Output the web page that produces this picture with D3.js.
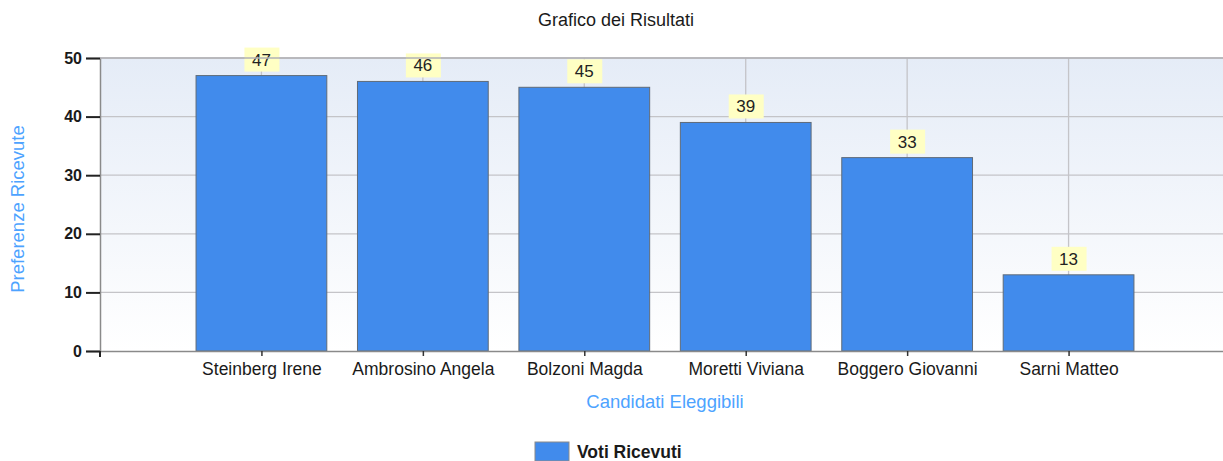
<!DOCTYPE html>
<html>
<head>
<meta charset="utf-8">
<script src="https://cdn.jsdelivr.net/npm/d3@7"></script>
<style>
  body { margin: 0; background: #fff; }
  text { font-family: "Liberation Sans", Arial, sans-serif; }
</style>
</head>
<body>
<div id="chart"></div>
<script>
// data
var candidati = ["Steinberg Irene", "Ambrosino Angela", "Bolzoni Magda", "Moretti Viviana", "Boggero Giovanni", "Sarni Matteo"];
var voti = [47, 46, 45, 39, 33, 13];
var yTicks = [0, 10, 20, 30, 40, 50];

var w = 1223, h = 461;
var pLeft = 100, pRight = 1230, pTop = 58, pBottom = 351;

var svg = d3.select("#chart").append("svg")
    .attr("width", w)
    .attr("height", h);

var xScale = d3.scalePoint().domain(candidati).range([pLeft, pRight]).padding(1);
var yScale = d3.scaleLinear().domain([0, 50]).range([pBottom, pTop]);
var barW = xScale.step() * 0.81;

// background gradient of the plot area
var defs = svg.append("defs");
var grad = defs.append("linearGradient").attr("id", "bg")
    .attr("x1", "0%").attr("x2", "0%").attr("y1", "0%").attr("y2", "100%");
grad.append("stop").attr("offset", "0%").attr("stop-color", "#e5ecf7");
grad.append("stop").attr("offset", "100%").attr("stop-color", "#ffffff");

svg.append("rect")
    .attr("x", pLeft).attr("y", pTop)
    .attr("width", w - pLeft).attr("height", pBottom - pTop)
    .style("fill", "url(#bg)");

// grid
svg.append("g").selectAll("line")
    .data(yTicks.slice(1))
    .enter().append("line")
    .attr("x1", pLeft).attr("x2", w)
    .attr("y1", function(d) { return yScale(d); })
    .attr("y2", function(d) { return yScale(d); })
    .attr("stroke", "#c4c4c8").attr("stroke-width", 1.3);

svg.append("g").selectAll("line")
    .data(candidati)
    .enter().append("line")
    .attr("x1", function(d) { return xScale(d); })
    .attr("x2", function(d) { return xScale(d); })
    .attr("y1", pTop).attr("y2", pBottom)
    .attr("stroke", "#c4c4c8").attr("stroke-width", 1.3);

// bars
svg.append("g").selectAll("rect")
    .data(voti)
    .enter().append("rect")
    .attr("x", function(d, i) { return xScale(candidati[i]) - barW / 2; })
    .attr("y", function(d) { return yScale(d); })
    .attr("width", barW)
    .attr("height", function(d) { return pBottom - yScale(d); })
    .attr("fill", "#418bec")
    .attr("stroke", "#5f6b78")
    .attr("stroke-width", 1);

// value labels with yellow boxes
var lab = svg.append("g").selectAll("g")
    .data(voti)
    .enter().append("g")
    .attr("transform", function(d, i) { return "translate(" + xScale(candidati[i]) + "," + (yScale(d) - 4) + ")"; });
lab.append("rect")
    .attr("x", -17).attr("y", -24)
    .attr("width", 35).attr("height", 24)
    .attr("fill", "#ffffc4");
lab.append("text")
    .attr("x", 0).attr("y", -6)
    .attr("text-anchor", "middle")
    .style("font-size", "17px")
    .style("fill", "#222")
    .text(function(d) { return d; });

// axes
var yAxis = svg.append("g")
    .attr("transform", "translate(" + pLeft + ",0)")
    .call(d3.axisLeft(yScale).tickValues(yTicks).tickSize(14).tickPadding(4));
yAxis.select(".domain").attr("stroke", "#8a8a8a").attr("stroke-width", 1.5);
yAxis.selectAll(".tick line").attr("stroke", "#222").attr("stroke-width", 2);
yAxis.selectAll(".tick text")
    .style("font-family", "'Liberation Sans', Arial, sans-serif")
    .style("font-weight", "bold")
    .style("font-size", "16px")
    .style("fill", "#1a1a1a");

var xAxis = svg.append("g")
    .attr("transform", "translate(0," + pBottom + ")")
    .call(d3.axisBottom(xScale).tickSize(5).tickPadding(7).tickSizeOuter(0));
xAxis.select(".domain").attr("stroke", "#8a8a8a").attr("stroke-width", 1.5);
xAxis.selectAll(".tick line").attr("stroke", "#333").attr("stroke-width", 1.5);
xAxis.selectAll(".tick text")
    .style("font-size", "17.5px")
    .style("fill", "#1a1a1a");
// small tick under the y axis origin
svg.append("line")
    .attr("x1", pLeft).attr("x2", pLeft)
    .attr("y1", pBottom).attr("y2", pBottom + 6)
    .attr("stroke", "#222").attr("stroke-width", 2);

// top border of the plot
svg.append("line")
    .attr("x1", pLeft).attr("x2", w)
    .attr("y1", pTop).attr("y2", pTop)
    .attr("stroke", "#b0b0b4").attr("stroke-width", 1.5);

// titles
svg.append("text")
    .attr("x", 616).attr("y", 26)
    .attr("text-anchor", "middle")
    .style("font-size", "18px")
    .style("fill", "#1a1a1a")
    .text("Grafico dei Risultati");

svg.append("text")
    .attr("x", 665).attr("y", 408)
    .attr("text-anchor", "middle")
    .style("font-size", "18.5px")
    .style("fill", "#4da3ff")
    .text("Candidati Eleggibili");

svg.append("text")
    .attr("transform", "translate(24,209) rotate(-90)")
    .attr("text-anchor", "middle")
    .style("font-size", "18.5px")
    .style("fill", "#4da3ff")
    .text("Preferenze Ricevute");

// legend
svg.append("rect")
    .attr("x", 535).attr("y", 442)
    .attr("width", 34).attr("height", 19)
    .attr("fill", "#418bec")
    .attr("stroke", "#8a8a8a");
svg.append("text")
    .attr("x", 577).attr("y", 458)
    .style("font-size", "17.5px")
    .style("font-weight", "bold")
    .style("fill", "#1a1a1a")
    .text("Voti Ricevuti");
</script>
</body>
</html>
